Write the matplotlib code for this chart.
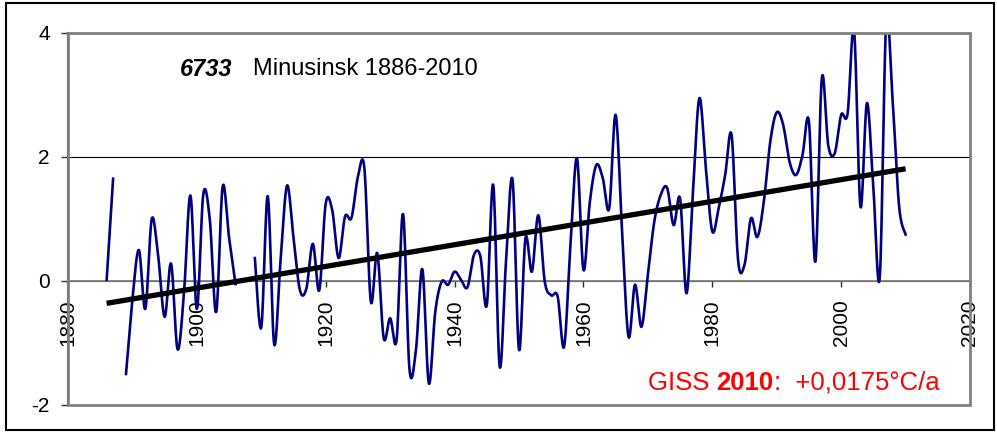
import numpy as np
import matplotlib
matplotlib.use("Agg")
import matplotlib.pyplot as plt
from matplotlib.patches import Rectangle

plt.rcParams["font.family"] = ["Liberation Sans", "DejaVu Sans"]

# annual anomaly, Minusinsk (station 6733); nan = missing year
years = np.arange(1886, 2011)
temps = [
    0.02, 1.65, np.nan, -1.5, -0.3, 0.5, -0.45, 1.0, 0.4, -0.58,      # 1886-1895
    0.28, -1.1, -0.2, 1.38, -0.45, 1.4, 1.0, -0.5, 1.52, 0.7,         # 1896-1905
    -0.05, np.nan, np.nan, 0.37, -0.75, 1.37, -1.02, 0.35, 1.54, 0.7,  # 1906-1915
    -0.15, -0.12, 0.6, -0.15, 1.25, 1.15, 0.37, 1.04, 1.02, 1.68,     # 1916-1925
    1.82, -0.33, 0.45, -0.92, -0.6, -0.95, 1.08, -1.42, -1.12, 0.19,  # 1926-1935
    -1.65, -0.5, -0.01, -0.06, 0.15, 0.02, -0.1, 0.42, 0.4, -0.39,    # 1936-1945
    1.55, -1.38, 0.35, 1.63, -1.11, 0.69, 0.15, 1.06, -0.01, -0.23,   # 1946-1955
    -0.25, -1.06, 0.6, 1.98, 0.18, 1.28, 1.87, 1.66, 1.17, 2.68,      # 1956-1965
    0.8, -0.9, -0.06, -0.74, 0.1, 0.96, 1.39, 1.5, 0.9, 1.33,         # 1966-1975
    -0.2, 1.44, 2.95, 1.82, 0.8, 1.18, 1.71, 2.35, 0.34, 0.26,        # 1976-1985
    1.01, 0.71, 1.28, 2.25, 2.72, 2.52, 1.92, 1.71, 2.03, 2.57,       # 1986-1995
    0.31, 3.27, 2.19, 2.06, 2.68, 2.7, 4.05, 1.2, 2.87, 1.5,          # 1996-2005
    0.07, 4.2, 2.9, 1.2, 0.75,                                        # 2006-2010
]
temps = np.array(temps)

trend_start = -0.36   # value of the linear trend in 1886
trend_slope = 0.0175  # degC per year

x_ticks = [1880, 1900, 1920, 1940, 1960, 1980, 2000, 2020]
y_ticks = [-2, 0, 2, 4]


def smooth(x, y, n=16):
    # bezier smoothing like the "smoothed line" option of spreadsheet charts
    pts = np.column_stack([x, y])
    if len(pts) < 3:
        return pts[:, 0], pts[:, 1]
    out = []
    t = np.linspace(0, 1, n)[:, None]
    for i in range(len(pts) - 1):
        p0 = pts[max(i - 1, 0)]
        p1 = pts[i]
        p2 = pts[i + 1]
        p3 = pts[min(i + 2, len(pts) - 1)]
        c1 = p1 + (p2 - p0) / 6
        c2 = p2 - (p3 - p1) / 6
        seg = ((1 - t) ** 3 * p1 + 3 * (1 - t) ** 2 * t * c1
               + 3 * (1 - t) * t ** 2 * c2 + t ** 3 * p2)
        out.append(seg if i == 0 else seg[1:])
    out = np.vstack(out)
    return out[:, 0], out[:, 1]


fig = plt.figure(figsize=(9.97, 4.33), dpi=100)
ax = fig.add_axes([68 / 997, 28 / 433, 902 / 997, 372 / 433])

# split series at missing years
ok = ~np.isnan(temps)
idx = np.where(ok)[0]
groups = np.split(idx, np.where(np.diff(idx) > 1)[0] + 1)
for g in groups:
    sx, sy = smooth(years[g], temps[g])
    ax.plot(sx, sy, color="#000080", lw=1.9, zorder=3)

tx = np.array([years[0], years[-1]])
ax.plot(tx, trend_start + trend_slope * (tx - years[0]), color="black",
        lw=3.8, solid_capstyle="butt", zorder=4)

ax.set_xlim(1880, 2020)
ax.set_ylim(-2, 4)
ax.set_xticks(x_ticks)
ax.set_yticks(y_ticks)
ax.set_yticklabels([str(v) for v in y_ticks])

ax.spines["bottom"].set_position(("data", 0))
ax.spines["bottom"].set_color("#808080")
ax.spines["bottom"].set_linewidth(1.3)
ax.spines["left"].set_color("#303030")
ax.spines["left"].set_linewidth(1.5)
ax.spines["top"].set_visible(False)
ax.spines["right"].set_visible(False)
ax.add_patch(Rectangle((0, 0), 1, 1, transform=ax.transAxes, fill=False,
                       ec="#808080", lw=2, zorder=5, clip_on=False))

ax.tick_params(axis="x", direction="out", length=4, width=1,
               color="#303030", labelsize=15, pad=9, labelrotation=90)
ax.tick_params(axis="y", direction="out", length=5, width=1,
               color="#303030", labelsize=15, pad=8)
ax.yaxis.grid(True, color="black", lw=0.8)
ax.set_axisbelow(True)

ax.text(0.124, 0.902, "6733", transform=ax.transAxes, fontsize=17,
        fontweight="bold", fontstyle="italic", va="center")
ax.text(0.205, 0.902, "Minusinsk 1886-2010", transform=ax.transAxes,
        fontsize=17, va="center")

t1 = ax.text(0.643, 0.06, "GISS ", transform=ax.transAxes, fontsize=18.5,
             color="red", va="center")
t2 = ax.annotate("2010", xy=(1, 0), xycoords=t1, fontsize=18.5,
                 color="red", fontweight="bold", va="bottom")
ax.annotate(":  +0,0175°C/a", xy=(1, 0), xycoords=t2, fontsize=18.5,
            color="red", va="bottom")

fig.add_artist(Rectangle((6 / 997, 3 / 433), 988 / 997, 427 / 433,
                         transform=fig.transFigure, fill=False,
                         ec="black", lw=1.5))

fig.savefig("out.png", dpi=100)
